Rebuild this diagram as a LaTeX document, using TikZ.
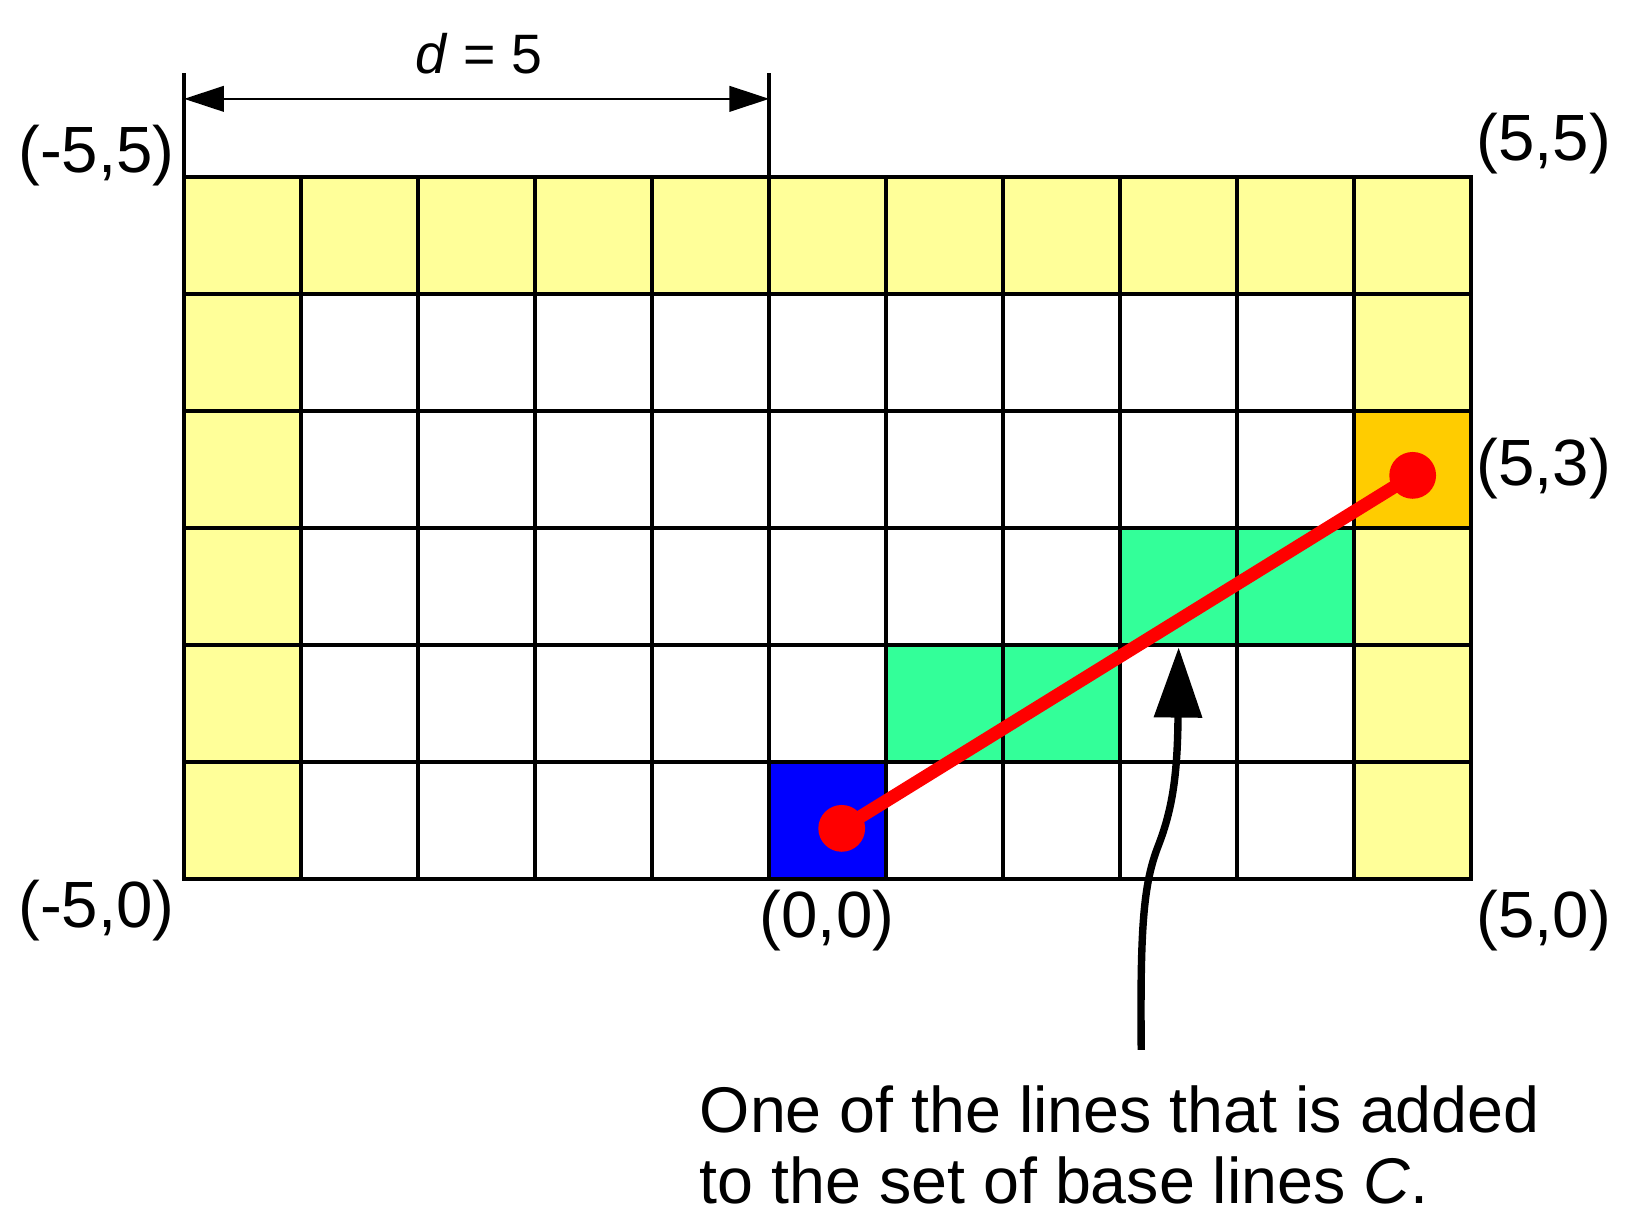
\documentclass[tikz,border=0pt]{standalone}
\usepackage{fontspec}
\setmainfont{Liberation Sans}
\usetikzlibrary{arrows.meta}
\definecolor{lyellow}{HTML}{FFFF99}
\definecolor{lorange}{HTML}{FFCC00}
\definecolor{lgreen}{HTML}{33FF99}
\definecolor{lblue}{HTML}{0000FF}
\definecolor{lred}{HTML}{FF0000}
\begin{document}
\begin{tikzpicture}[x=1cm,y=1cm,
  gridline/.style={line width=1pt},
  lbl/.style={font=\fontsize{15.9}{17.2}\selectfont, inner sep=0pt},
  notefont/.style={font=\fontsize{15.7}{17.2}\selectfont, inner sep=0pt},
  reddot/.style={circle, fill=lred, inner sep=0pt, minimum size=0.4cm}]
\useasboundingbox (-1.574,-2.974) rectangle (12.366,7.513);
% cell fills
\fill[lyellow] (0,5) rectangle (11,6);
\fill[lyellow] (0,0) rectangle (1,5);
\fill[lyellow] (10,0) rectangle (11,5);
\fill[lorange] (10,3) rectangle (11,4);
\fill[lgreen] (6,1) rectangle (8,2);
\fill[lgreen] (8,2) rectangle (10,3);
\fill[lblue] (5,0) rectangle (6,1);
\draw[gridline, line cap=rect] (0,0) grid (11,6);
% dimension
\draw[gridline] (0,6) -- (0,6.89);
\draw[gridline] (5,6) -- (5,6.89);
\coordinate (dl) at (0,6.668);
\coordinate (dr) at (5,6.668);
\draw[line width=0.4pt, {Triangle[length=0.34cm,width=0.22cm]}-{Triangle[length=0.34cm,width=0.22cm]}] (dl) -- (dr);
\node[lbl, font=\fontsize{13.5}{16}\selectfont] (dlabel) at (2.52,7.05) {\textit{d} = 5};
% corner labels
\node[lbl] (lA) at (-0.75,6.18) {(-5,5)};
\node[lbl] (lB) at (11.62,6.29) {(5,5)};
\node[lbl] (lC) at (11.62,3.51) {(5,3)};
\node[lbl] (lD) at (-0.75,-0.27) {(-5,0)};
\node[lbl] (lE) at (5.495,-0.356) {(0,0)};
\node[lbl] (lF) at (11.62,-0.356) {(5,0)};
% red line
\node[reddot] (p0) at (5.62,0.433) {};
\node[reddot] (p1) at (10.50,3.45) {};
\draw[lred, line width=3.2pt] (p0.center) -- (p1.center);
% note and curved arrow
\node[notefont, anchor=west, align=left] (note) at (4.40,-2.27) {One of the lines that is added\\to the set of base lines \textit{C}.};
\coordinate (cs) at (8.18,-1.46);
\coordinate (ce) at (8.50,1.98);
\draw[line width=1.8pt, -{Triangle[length=0.6cm,width=0.4cm]}] (cs) .. controls (8.17,-0.4) and (8.2,-0.05) .. (8.32,0.27) .. controls (8.45,0.6) and (8.49,0.9) .. (ce);
\end{tikzpicture}
\end{document}
